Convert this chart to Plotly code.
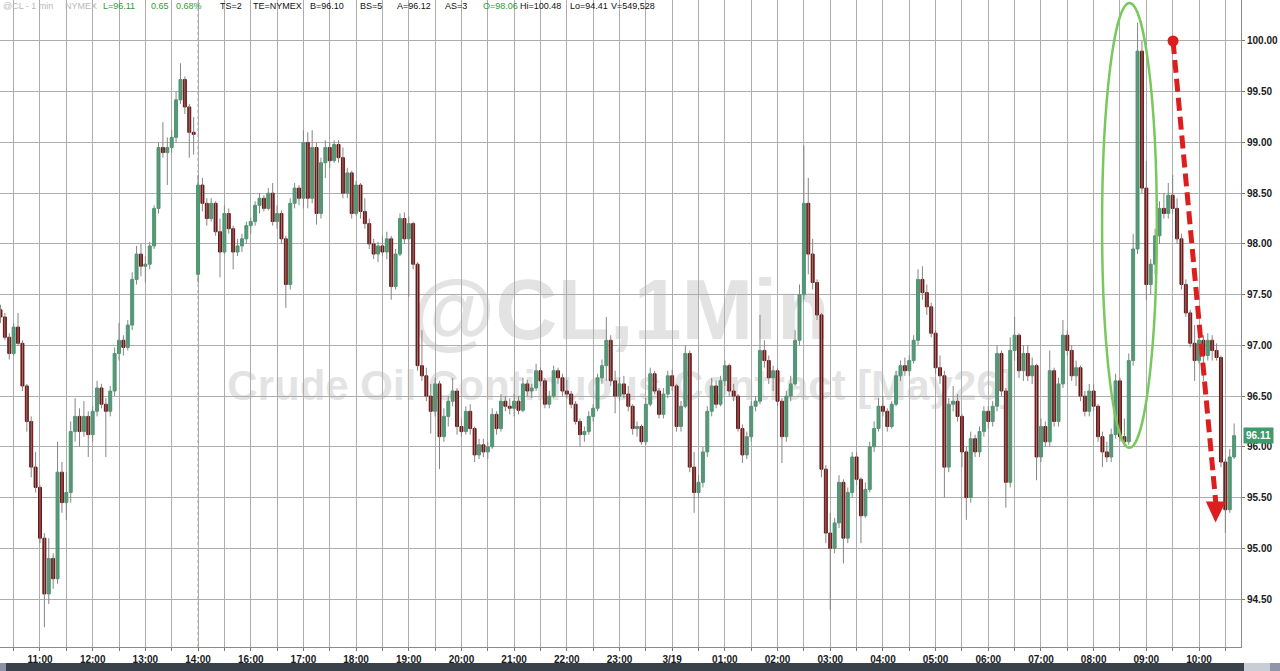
import pandas as pd
import plotly.graph_objects as go

# ---------------- data (5-minute bars) ----------------
# session 1: 3/18 10:15 .. 13:55 ; session 2: 3/18 15:00 .. 3/19 10:40
session1_start = "2026-03-18 10:15"
session1_bars = 45
session2_start = "2026-03-18 15:00"
session2_bars = 237

opens = [
    97.35, 97.28, 97.08, 96.92, 97.18, 97.02, 96.60, 96.25, 95.80,
    95.60, 95.10, 94.55, 94.90, 94.70, 95.75, 95.45, 95.55, 96.15, 96.30, 96.15, 96.30,
    96.12, 96.35, 96.58, 96.42, 96.35, 96.55, 96.92, 97.05, 96.98, 97.20, 97.65, 97.90,
    97.78, 97.80, 97.98, 98.35, 98.95, 98.90, 98.95, 99.05, 99.42, 99.62, 99.35, 99.10,
    97.70, 98.58, 98.40, 98.25, 98.40, 98.12, 97.92, 98.30, 98.15, 97.92, 97.98, 98.05,
    98.18, 98.22, 98.38, 98.45, 98.35, 98.50, 98.22, 98.30, 98.05, 97.60, 98.40, 98.55,
    98.45, 99.00, 98.45, 98.95, 98.30, 98.80, 98.95, 98.82, 98.98, 98.85, 98.50, 98.70,
    98.30, 98.58, 98.32, 98.20, 98.00, 97.90, 97.98, 97.92, 98.05, 97.58, 97.90, 98.25,
    98.05, 98.20, 97.80, 96.80, 96.70, 96.50, 96.35, 96.62, 96.10, 96.30, 96.45, 96.55,
    96.20, 96.15, 96.35, 96.18, 95.92, 96.02, 95.95, 96.00, 96.32, 96.18, 96.45, 96.40,
    96.38, 96.45, 96.36, 96.62, 96.55, 96.58, 96.75, 96.65, 96.42, 96.50, 96.75, 96.68,
    96.55, 96.52, 96.42, 96.25, 96.12, 96.15, 96.30, 96.38, 96.68, 96.80, 97.05, 96.65,
    96.50, 96.62, 96.52, 96.40, 96.18, 96.20, 96.05, 96.42, 96.72, 96.55, 96.32, 96.52,
    96.70, 96.60, 96.20, 96.40, 96.92, 95.80, 95.55, 95.65, 95.95, 96.35, 96.60, 96.42,
    96.65, 96.80, 96.55, 96.50, 96.18, 95.92, 96.10, 96.40, 96.45, 96.95, 96.85, 96.68,
    96.75, 96.45, 96.10, 96.50, 96.62, 97.05, 97.50, 98.40, 97.90, 97.62, 97.30, 95.78,
    95.15, 95.00, 95.25, 95.65, 95.10, 95.55, 95.90, 95.68, 95.32, 95.58, 96.00, 96.18,
    96.40, 96.35, 96.20, 96.42, 96.70, 96.80, 96.75, 96.85, 97.05, 97.65, 97.52, 97.38,
    97.12, 96.78, 96.70, 95.80, 96.42, 96.45, 96.30, 95.95, 95.50, 96.08, 95.95, 96.15,
    96.35, 96.25, 96.40, 96.92, 96.55, 95.65, 96.95, 97.10, 96.75, 96.92, 96.70, 96.80,
    95.90, 96.20, 96.05, 96.75, 96.25, 96.62, 97.10, 96.95, 96.70, 96.78, 96.50, 96.35,
    96.55, 96.40, 96.10, 95.95, 95.90, 96.12, 96.65, 96.10, 96.05, 96.85, 97.95, 99.90,
    98.55, 97.60, 97.80, 98.08, 98.35, 98.30, 98.48, 98.35, 98.05, 97.60, 97.32, 97.02,
    96.85, 97.05, 96.90, 97.05, 96.95, 96.88, 95.85, 95.38, 95.90,
]
highs = [
    97.40, 97.32, 97.12, 97.22, 97.32, 97.05, 96.62, 96.30, 95.95,
    95.62, 95.15, 95.10, 94.95, 96.05, 95.85, 95.75, 96.25, 96.48, 96.38, 96.45, 96.35,
    96.40, 96.65, 96.62, 96.48, 96.60, 96.98, 97.22, 97.10, 97.25, 97.72, 97.98, 98.00,
    97.88, 98.02, 98.38, 99.00, 99.20, 99.05, 99.12, 99.50, 99.78, 99.65, 99.38, 99.25,
    98.68, 98.65, 98.45, 98.45, 98.42, 98.25, 98.38, 98.35, 98.18, 98.05, 98.10, 98.22,
    98.26, 98.42, 98.50, 98.48, 98.55, 98.60, 98.38, 98.33, 98.08, 98.45, 98.60, 98.58,
    99.12, 99.10, 99.12, 99.00, 98.85, 99.02, 99.00, 99.02, 99.02, 98.95, 98.75, 98.72,
    98.62, 98.60, 98.45, 98.25, 98.05, 98.02, 98.08, 98.12, 98.08, 97.95, 98.30, 98.31,
    98.27, 98.22, 97.82, 97.15, 96.78, 96.62, 96.68, 96.65, 96.38, 96.50, 96.68, 96.58,
    96.28, 96.40, 96.42, 96.20, 96.08, 96.08, 96.05, 96.38, 96.35, 96.52, 96.50, 96.48,
    96.52, 96.50, 96.68, 96.66, 96.62, 96.82, 96.78, 96.68, 96.55, 96.80, 96.78, 96.72,
    96.66, 96.55, 96.45, 96.28, 96.20, 96.35, 96.42, 96.72, 96.86, 97.28, 97.10, 96.75,
    96.68, 96.70, 96.60, 96.42, 96.25, 96.22, 96.48, 96.78, 96.75, 96.58, 96.58, 96.75,
    96.76, 96.62, 96.45, 97.00, 96.95, 95.95, 95.72, 96.00, 96.40, 96.68, 96.65, 96.70,
    96.85, 96.82, 96.62, 96.52, 96.22, 96.15, 96.45, 96.50, 97.30, 97.05, 96.90, 96.80,
    96.78, 96.48, 96.55, 96.70, 97.15, 97.60, 98.97, 98.65, 98.05, 97.65, 97.32, 95.82,
    95.35, 95.30, 95.72, 95.68, 95.60, 95.95, 95.95, 95.70, 95.65, 96.05, 96.25, 96.48,
    96.50, 96.38, 96.45, 96.75, 96.85, 96.88, 96.90, 97.10, 97.75, 97.78, 97.60, 97.42,
    97.15, 96.90, 96.75, 96.48, 96.60, 96.52, 96.32, 96.00, 96.15, 96.12, 96.20, 96.40,
    96.40, 96.45, 97.00, 96.95, 96.58, 97.08, 97.28, 97.12, 97.00, 97.00, 96.88, 96.82,
    96.28, 96.25, 96.95, 96.78, 96.68, 97.25, 97.15, 97.00, 96.85, 96.80, 96.55, 96.62,
    96.62, 96.42, 96.15, 96.05, 96.18, 96.72, 96.68, 96.28, 96.92, 98.10, 100.18, 100.00,
    98.82, 97.85, 98.15, 98.42, 98.50, 98.60, 98.68, 98.45, 98.10, 97.65, 97.35, 97.20,
    97.15, 97.10, 97.12, 97.10, 97.02, 96.90, 95.88, 95.98, 96.23,
]
lows = [
    97.22, 97.05, 96.86, 96.90, 97.00, 96.55, 96.15, 95.70, 95.55,
    95.05, 94.22, 94.45, 94.60, 94.65, 95.35, 95.28, 95.45, 96.05, 96.00, 96.10, 95.90,
    96.05, 96.30, 96.38, 95.90, 96.30, 96.50, 96.85, 96.90, 96.95, 97.15, 97.60, 97.68,
    97.62, 97.75, 97.95, 98.30, 98.85, 98.58, 98.90, 99.00, 99.38, 99.28, 98.85, 98.88,
    97.62, 98.32, 98.18, 98.22, 98.08, 97.67, 97.90, 98.10, 97.75, 97.88, 97.92, 98.00,
    98.10, 98.18, 98.30, 98.32, 98.33, 98.18, 98.15, 98.00, 97.37, 97.55, 98.35, 98.38,
    98.35, 98.35, 98.40, 98.19, 98.25, 98.65, 98.75, 98.80, 98.80, 98.45, 98.45, 98.25,
    98.28, 98.25, 98.15, 97.95, 97.85, 97.82, 97.88, 97.85, 97.45, 97.55, 97.88, 98.00,
    97.48, 97.75, 96.75, 96.65, 96.45, 96.13, 96.30, 95.78, 96.05, 96.20, 96.40, 96.12,
    96.10, 96.12, 96.12, 95.85, 95.88, 95.90, 95.88, 95.98, 96.12, 96.15, 96.35, 96.32,
    96.30, 96.32, 96.34, 96.50, 96.48, 96.55, 96.60, 96.38, 96.38, 96.48, 96.62, 96.50,
    96.48, 96.38, 96.22, 96.00, 96.05, 96.12, 96.25, 96.35, 96.62, 96.65, 96.60, 96.33,
    96.45, 96.48, 96.35, 96.12, 96.10, 96.02, 96.02, 96.40, 96.52, 96.28, 96.28, 96.48,
    96.55, 96.15, 96.15, 96.38, 95.75, 95.35, 95.50, 95.60, 95.90, 96.30, 96.38, 96.40,
    96.60, 96.50, 96.45, 96.15, 95.84, 95.88, 96.05, 96.35, 96.42, 96.78, 96.62, 96.55,
    96.40, 95.84, 96.05, 96.45, 96.60, 97.00, 97.45, 97.70, 97.55, 97.25, 95.70, 95.05,
    94.39, 94.95, 95.20, 94.85, 95.05, 95.50, 95.62, 95.05, 95.30, 95.55, 95.95, 96.15,
    96.30, 96.15, 96.18, 96.40, 96.65, 96.70, 96.70, 96.82, 97.00, 97.45, 97.30, 97.08,
    96.72, 96.62, 95.50, 95.75, 96.35, 96.25, 95.80, 95.28, 95.45, 95.90, 95.90, 96.10,
    96.18, 96.20, 96.35, 96.50, 95.40, 95.60, 96.85, 96.68, 96.65, 96.65, 96.62, 95.67,
    95.85, 96.00, 96.00, 96.20, 96.20, 96.58, 96.90, 96.65, 96.60, 96.45, 96.30, 96.30,
    96.35, 96.05, 95.80, 95.85, 95.85, 96.08, 96.05, 96.00, 96.02, 96.80, 97.90, 98.50,
    97.45, 97.50, 97.70, 98.00, 98.25, 98.25, 98.30, 98.00, 97.55, 97.28, 96.98, 96.65,
    96.82, 96.65, 96.85, 96.85, 96.85, 95.80, 95.15, 95.35, 95.88,
]
closes = [
    97.28, 97.08, 96.92, 97.18, 97.02, 96.60, 96.25, 95.80, 95.60,
    95.10, 94.55, 94.90, 94.70, 95.75, 95.45, 95.55, 96.15, 96.30, 96.15, 96.30, 96.12,
    96.35, 96.58, 96.42, 96.35, 96.55, 96.92, 97.05, 96.98, 97.20, 97.65, 97.90, 97.78,
    97.80, 97.98, 98.35, 98.95, 98.90, 98.95, 99.05, 99.42, 99.62, 99.35, 99.10, 99.08,
    98.58, 98.40, 98.25, 98.40, 98.12, 97.92, 98.30, 98.15, 97.92, 97.98, 98.05, 98.18,
    98.22, 98.38, 98.45, 98.35, 98.50, 98.22, 98.30, 98.05, 97.60, 98.40, 98.55, 98.45,
    99.00, 98.45, 98.95, 98.30, 98.80, 98.95, 98.82, 98.98, 98.85, 98.50, 98.70, 98.30,
    98.58, 98.32, 98.20, 98.00, 97.90, 97.98, 97.92, 98.05, 97.58, 97.90, 98.25, 98.05,
    98.20, 97.80, 96.80, 96.70, 96.50, 96.35, 96.62, 96.10, 96.30, 96.45, 96.55, 96.20,
    96.15, 96.35, 96.18, 95.92, 96.02, 95.95, 96.00, 96.32, 96.18, 96.45, 96.40, 96.38,
    96.45, 96.36, 96.62, 96.55, 96.58, 96.75, 96.65, 96.42, 96.50, 96.75, 96.68, 96.55,
    96.52, 96.42, 96.25, 96.12, 96.15, 96.30, 96.38, 96.68, 96.80, 97.05, 96.65, 96.50,
    96.62, 96.52, 96.40, 96.18, 96.20, 96.05, 96.42, 96.72, 96.55, 96.32, 96.52, 96.70,
    96.60, 96.20, 96.40, 96.92, 95.80, 95.55, 95.65, 95.95, 96.35, 96.60, 96.42, 96.65,
    96.80, 96.55, 96.50, 96.18, 95.92, 96.10, 96.40, 96.45, 96.95, 96.85, 96.68, 96.75,
    96.45, 96.10, 96.50, 96.62, 97.05, 97.50, 98.40, 97.90, 97.62, 97.30, 95.78, 95.15,
    95.00, 95.25, 95.65, 95.10, 95.55, 95.90, 95.68, 95.32, 95.58, 96.00, 96.18, 96.40,
    96.35, 96.20, 96.42, 96.70, 96.80, 96.75, 96.85, 97.05, 97.65, 97.52, 97.38, 97.12,
    96.78, 96.70, 95.80, 96.42, 96.45, 96.30, 95.95, 95.50, 96.08, 95.95, 96.15, 96.35,
    96.25, 96.40, 96.92, 96.55, 95.65, 96.95, 97.10, 96.75, 96.92, 96.70, 96.80, 95.90,
    96.20, 96.05, 96.75, 96.25, 96.62, 97.10, 96.95, 96.70, 96.78, 96.50, 96.35, 96.55,
    96.40, 96.10, 95.95, 95.90, 96.12, 96.65, 96.10, 96.05, 96.85, 97.95, 99.90, 98.55,
    97.60, 97.80, 98.08, 98.35, 98.30, 98.48, 98.35, 98.05, 97.60, 97.32, 97.02, 96.85,
    97.05, 96.90, 97.05, 96.95, 96.88, 95.85, 95.38, 95.90, 96.11,
]

hour_labels = ["11:00", "12:00", "13:00", "14:00", "16:00", "17:00", "18:00", "19:00",
               "20:00", "21:00", "22:00", "23:00", "3/19", "01:00", "02:00", "03:00",
               "04:00", "05:00", "06:00", "07:00", "08:00", "09:00", "10:00"]
price_ticks = [94.5, 95.0, 95.5, 96.0, 96.5, 97.0, 97.5, 98.0, 98.5, 99.0, 99.5, 100.0]

header_parts = [
    ("@CL - 1 min", "#b9b9b9", 2), ("NYMEX", "#b9b9b9", 64),
    ("L=96.11", "#2f9a34", 102), ("0.65", "#2f9a34", 150), ("0.68%", "#2f9a34", 175),
    ("TS=2", "#111111", 219), ("TE=NYMEX", "#111111", 252), ("B=96.10", "#111111", 309),
    ("BS=5", "#111111", 359), ("A=96.12", "#111111", 396), ("AS=3", "#111111", 444),
    ("O=98.06", "#2f9a34", 482), ("Hi=100.48", "#111111", 519), ("Lo=94.41", "#111111", 569),
    ("V=549,528", "#111111", 610),
]

# ---------------- time -> compressed trading-hour axis ----------------
t1 = pd.date_range(session1_start, periods=session1_bars, freq="5min")
t2 = pd.date_range(session2_start, periods=session2_bars, freq="5min")
ref1 = pd.Timestamp("2026-03-18 11:00")
ref2 = pd.Timestamp("2026-03-18 15:00")
xpos = [(t - ref1).total_seconds() / 3600 for t in t1] + \
       [3 + (t - ref2).total_seconds() / 3600 for t in t2]

body_hi = [max(o, c) for o, c in zip(opens, closes)]
body_lo = [min(o, c) for o, c in zip(opens, closes)]

wx, wy = [], []
for x, lo, hi in zip(xpos, lows, highs):
    wx += [x, x, None]
    wy += [lo, hi, None]

GREEN = "#3f9c6f"
RED = "#741010"
FONT = "Liberation Sans, Arial, sans-serif"

fig = go.Figure()
fig.add_trace(go.Scatter(x=wx, y=wy, mode="lines", line=dict(color="#858585", width=1),
                         hoverinfo="skip", showlegend=False))
fig.add_trace(go.Candlestick(
    x=xpos, open=opens, high=body_hi, low=body_lo, close=closes,
    increasing=dict(line=dict(color=GREEN, width=1), fillcolor=GREEN),
    decreasing=dict(line=dict(color=RED, width=1), fillcolor=RED),
    whiskerwidth=0, showlegend=False))

tickvals = [k * 0.5 for k in range(-1, 46)]
ticktext = [hour_labels[int(v)] if float(v).is_integer() and 0 <= v < len(hour_labels) else ""
            for v in tickvals]

fig.update_layout(
    width=1280, height=671,
    margin=dict(l=0, r=39, t=0, b=24),
    paper_bgcolor="white", plot_bgcolor="white",
    showlegend=False,
    boxgap=0.25, boxgroupgap=0.1,
    xaxis=dict(range=[-0.759, 22.797], tickvals=tickvals, ticktext=ticktext,
               showgrid=True, gridcolor="#adadad", gridwidth=1, zeroline=False,
               ticks="outside", ticklen=3, tickcolor="#777777",
               showline=True, linecolor="#8a8a8a", linewidth=1,
               tickfont=dict(family=FONT, size=10, color="#1a1a1a", weight="bold"),
               rangeslider=dict(visible=False)),
    yaxis=dict(side="right", range=[94.027, 100.404], tickvals=price_ticks, tickformat=".2f",
               showgrid=True, gridcolor="#adadad", gridwidth=1, zeroline=False,
               ticks="outside", ticklen=3, tickcolor="#777777",
               showline=True, linecolor="#8a8a8a", linewidth=1,
               tickfont=dict(family=FONT, size=10, color="#1a1a1a", weight="bold")),
)

shapes = []
# watermark (under the grid)
shapes.append(dict(type="rect", xref="paper", yref="paper", x0=0.2, x1=0.8, y0=0.47, y1=0.60,
                   line=dict(width=0), fillcolor="rgba(0,0,0,0)", layer="below",
                   label=dict(text="@CL,1Min", textposition="middle center",
                              font=dict(family="Liberation Sans, Arial", size=86,
                                        color="#e3e3e3", weight="bold"))))
shapes.append(dict(type="rect", xref="paper", yref="paper", x0=0.1, x1=0.9, y0=0.38, y1=0.44,
                   line=dict(width=0), fillcolor="rgba(0,0,0,0)", layer="below",
                   label=dict(text="Crude Oil Continuous Contract [May26]",
                              textposition="middle center",
                              font=dict(family="Liberation Sans, Arial", size=42,
                                        color="#e3e3e3", weight="bold"))))
# session break (dashed)
shapes.append(dict(type="line", x0=3, x1=3, yref="paper", y0=0, y1=1,
                   line=dict(color="white", width=1), layer="between"))
shapes.append(dict(type="line", x0=3, x1=3, yref="paper", y0=0, y1=1,
                   line=dict(color="#9a9a9a", width=1, dash="3px,3px"), layer="between"))

# green ellipse around the spike
ELL_X0, ELL_X1, ELL_Y0, ELL_Y1 = 20.16, 21.20, 95.99, 100.375
shapes.append(dict(type="circle", x0=ELL_X0, x1=ELL_X1, y0=ELL_Y0, y1=ELL_Y1,
                   line=dict(color="#78c85c", width=2.5), layer="above"))
# red dashed arrow
ARR_X0, ARR_Y0, ARR_X1, ARR_Y1 = 21.507, 100.0, 22.32, 95.44
ARR_TIP = (22.314, 95.255)
shapes.append(dict(type="line", x0=ARR_X0, y0=ARR_Y0, x1=ARR_X1, y1=ARR_Y1,
                   line=dict(color="#dc1e1e", width=5, dash="13px,6px"), layer="above"))
shapes.append(dict(type="path",
                   path=f"M 22.13,{ARR_Y1 + 0.02} L 22.51,{ARR_Y1 + 0.02} L {ARR_TIP[0]},{ARR_TIP[1]} Z",
                   fillcolor="#dc1e1e", line=dict(width=0), layer="above"))
shapes.append(dict(type="circle", xsizemode="pixel", ysizemode="pixel",
                   xanchor=ARR_X0, yanchor=ARR_Y0, x0=-5.5, x1=5.5, y0=-5.5, y1=5.5,
                   fillcolor="#dc1e1e", line=dict(width=0), layer="above"))
# bottom scroll bar
PW = 1241.0
PH = 647.0
def px(v):
    return v / PW
yb0, yb1 = -(671 - PH) / PH, -(663 - PH) / PH
shapes.append(dict(type="rect", xref="paper", yref="paper", x0=0, x1=px(1280), y0=yb0, y1=yb1,
                   fillcolor="#39414b", line=dict(width=0)))
shapes.append(dict(type="rect", xref="paper", yref="paper", x0=0, x1=px(6), y0=yb0, y1=yb1,
                   fillcolor="#8a93a6", line=dict(width=0)))
shapes.append(dict(type="rect", xref="paper", yref="paper", x0=px(1244), x1=px(1270), y0=yb0, y1=yb1,
                   fillcolor="#c9cdd5", line=dict(width=0)))
shapes.append(dict(type="rect", xref="paper", yref="paper", x0=px(1270), x1=px(1280), y0=yb0, y1=yb1,
                   fillcolor="#8f97a6", line=dict(width=0)))
fig.update_layout(shapes=shapes)

annotations = []
for text, color, left in header_parts:
    annotations.append(dict(text=text, xref="paper", yref="paper", x=px(left), y=1 - 6.5 / PH,
                            xanchor="left", yanchor="middle", showarrow=False, borderpad=0,
                            font=dict(family="Liberation Sans, Arial", size=9, color=color)))
annotations.append(dict(text=f"{closes[-1]:.2f}", xref="paper", yref="y", x=1.0, y=closes[-1],
                        xanchor="left", yanchor="middle", xshift=2, showarrow=False,
                        bgcolor="#3f9b6b", borderpad=2,
                        font=dict(family=FONT, size=10, color="white", weight="bold")))
fig.update_layout(annotations=annotations)

fig.write_html("out.html",
               config={"displayModeBar": False},
               post_script="document.body.style.margin='0px';document.body.style.padding='0px';"
                           "document.body.style.overflow='hidden';")
